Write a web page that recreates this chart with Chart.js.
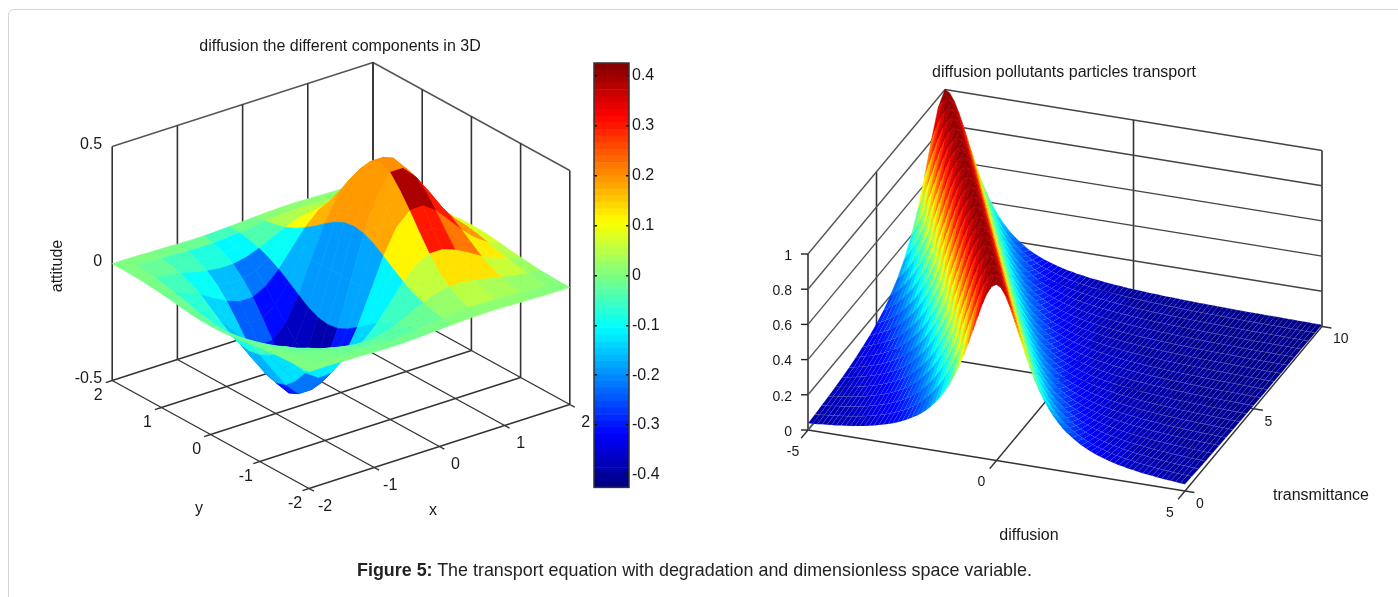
<!DOCTYPE html>
<html>
<head>
<meta charset="utf-8">
<script src="https://cdn.jsdelivr.net/npm/chart.js@4"></script>
<style>
  html, body { margin: 0; padding: 0; background: #fff; width: 1398px; height: 597px; overflow: hidden; }
  #frame { position: absolute; left: 8px; top: 9px; width: 1500px; height: 700px; border: 1px solid #d4d4d4; border-radius: 6px; }
  canvas { position: absolute; top: 0; }
  #caption { position: absolute; left: 357px; top: 560px; font: 17.9px "Liberation Sans", Arial, sans-serif; color: #222; white-space: nowrap; }
</style>
</head>
<body>
<div id="frame"></div>
<canvas id="leftChart" width="590" height="597" style="left:0"></canvas>
<canvas id="colorBar" width="90" height="450" style="left:580px;top:50px"></canvas>
<canvas id="rightChart" width="698" height="597" style="left:700px"></canvas>
<div id="caption"><b>Figure 5:</b> The transport equation with degradation and dimensionless space variable.</div>

<script>
// left surface
const xTicks = [-2, -1, 0, 1, 2];
const yTicks = [-2, -1, 0, 1, 2];
const zTicks = [-0.5, 0, 0.5];
const zTickLabels = ['-0.5', '0', '0.5'];
const gridStep = 0.2;
// height on the x >= 0, y >= 0 quarter, every 0.2. the other quarters mirror it (sign flips with x)
const quarterZ = [
  [0, .192, .341, .430, .430, .368, .284, .197, .124, .071, .037],
  [0, .185, .328, .410, .410, .354, .273, .189, .119, .068, .036],
  [0, .164, .291, .357, .360, .314, .242, .168, .106, .060, .032],
  [0, .134, .238, .292, .295, .257, .198, .138, .087, .050, .026],
  [0, .101, .180, .221, .222, .194, .150, .104, .065, .037, .019],
  [0, .071, .125, .154, .155, .135, .105, .072, .046, .026, .014],
  [0, .046, .081, .099, .100, .087, .067, .047, .029, .017, .009],
  [0, .027, .048, .059, .060, .052, .040, .028, .017, .010, .005],
  [0, .015, .026, .032, .032, .028, .022, .015, .010, .005, .003],
  [0, .007, .013, .016, .016, .014, .011, .008, .005, .003, .001],
  [0, .003, .006, .008, .008, .007, .005, .004, .002, .001, .001]
];
// colour value of each facet in the reference, facets are 0.4 wide, rows go with y
const facetColor = [
  [-.001, -.002, -.006, -.011, -.011, -.006, .006, .011, .011, .006, .002],
  [-.002, -.008, -.015, -.025, -.030, -.019, .019, .050, .035, .020, .008],
  [-.006, -.020, -.040, -.060, -.070, -.057, .057, .130, .130, .061, .024],
  [-.012, -.040, -.080, -.120, -.140, -.114, .114, .300, .220, .122, .048],
  [-.019, -.060, -.130, -.220, -.300, -.180, .180, .390, .300, .194, .076],
  [-.020, -.080, -.170, -.300, -.385, -.190, .190, .200, .300, .204, .080],
  [-.018, -.080, -.160, -.300, -.370, -.190, .190, .190, .250, .184, .072],
  [-.013, -.070, -.140, -.240, -.310, -.170, .170, .170, .200, .133, .052],
  [-.007, -.050, -.100, -.160, -.220, -.100, .100, .100, .100, .071, .028],
  [-.002, -.020, -.050, -.080, -.110, -.040, .040, .046, .042, .024, .010],
  [-.001, -.002, -.006, -.015, -.050, -.010, .010, .011, .011, .006, .002]
];

// colour bar
const colorbarTicks = [0.4, 0.3, 0.2, 0.1, 0, -0.1, -0.2, -0.3, -0.4];
const colorbarLabels = ['0.4', '0.3', '0.2', '0.1', '0', '-0.1', '-0.2', '-0.3', '-0.4'];

// right surface
const diffusionTicks = [-5, 0, 5];
const transmitTicks = [0, 5, 10];
const heightTicks = [0, 0.2, 0.4, 0.6, 0.8, 1];
const heightLabels = ['0', '0.2', '0.4', '0.6', '0.8', '1'];
// height read across the ridge, every 0.125 of (diffusion + transmittance / 2), from -5 to 10.
// the ridge keeps its shape, it only slides sideways from one row to the next
const ridgeProfile = [
  .038, .040, .042, .045, .047, .050, .052, .056, .059, .062, .066, .071, .075, .081, .086, .093,
  .100, .108, .117, .127, .138, .151, .165, .181, .200, .221, .246, .275, .308, .346, .390, .441,
  .500, .566, .640, .719, .800, .877, .941, .985,
  1, .985, .941, .877, .800, .719, .640, .566, .500, .441, .390, .346, .308, .275, .246, .221,
  .200, .181, .165, .151, .138, .127, .117, .108, .100, .093, .086, .081, .075, .071, .066, .062,
  .059, .056, .052, .050, .047, .045, .042, .040, .038, .037, .035, .033, .032, .031, .029, .028,
  .027, .026, .025, .024, .023, .022, .021, .021, .020, .019, .019, .018, .017, .017, .016, .016,
  .015, .015, .014, .014, .014, .013, .013, .013, .012, .012, .012, .011, .011, .011, .010, .010, .010
];

// 3d box to page pixels
const leftView = { o: [341, 275.5], ex: [65.2, -21], ey: [-49.2, -27], ez: [0, -234] };
const rightView = { o: [996.5, 460.5], ex: [37.7, 6.1], ey: [13.7, -16.45], ez: [0, -176] };

function project(view, x, y, z) {
  return {
    x: view.o[0] + x * view.ex[0] + y * view.ey[0] + z * view.ez[0],
    y: view.o[1] + x * view.ex[1] + y * view.ey[1] + z * view.ez[1]
  };
}

function jet(v) {
  const c = (t) => Math.round(255 * Math.min(1, Math.max(0, 1.5 - Math.abs(4 * v - t))));
  return 'rgb(' + c(3) + ',' + c(2) + ',' + c(1) + ')';
}

function cell(points, color, edge) {
  return {
    data: points.concat([points[0]]),
    showLine: true, pointRadius: 0, tension: 0, fill: 'shape',
    backgroundColor: color, borderColor: edge || color, borderWidth: 0.6
  };
}

function line(a, b, color, width) {
  return { data: [a, b], showLine: true, pointRadius: 0, tension: 0, fill: false, borderColor: color, borderWidth: width };
}

// draws the text items of a chart at their spot on the chart's scales
const textPlugin = {
  id: 'sceneText',
  afterDraw(chart, args, opts) {
    const ctx = chart.ctx;
    (opts.items || []).forEach((t) => {
      ctx.save();
      ctx.translate(chart.scales.x.getPixelForValue(t.x), chart.scales.y.getPixelForValue(t.y));
      if (t.rot) ctx.rotate(t.rot);
      ctx.font = t.size + 'px "Liberation Sans", Arial, sans-serif';
      ctx.fillStyle = '#1a1a1a';
      ctx.textAlign = t.align || 'center';
      ctx.textBaseline = 'middle';
      ctx.fillText(t.text, 0, 0);
      ctx.restore();
    });
  }
};

function sceneOptions(xMin, xMax, items) {
  return {
    responsive: false,
    animation: false,
    parsing: false,
    normalized: true,
    events: [],
    layout: { padding: 0 },
    scales: {
      x: { type: 'linear', display: false, min: xMin, max: xMax },
      y: { type: 'linear', display: false, min: 0, max: 597, reverse: true }
    },
    plugins: { legend: false, tooltip: false, title: false, sceneText: { items: items } }
  };
}

// ---------- left chart ----------
const leftSets = [];
const GRID_N = 20; // facets of 0.2 each way
const gridValue = (i) => -2 + i * gridStep;
// i is the row (y), j the column (x), both 0..20
function leftZ(i, j) {
  const q = quarterZ[Math.abs(i - 10)][Math.abs(j - 10)];
  return j < 10 ? -q : q;
}
// near cells first, chart.js paints the first dataset last
for (let i = 0; i < GRID_N; i++) {
  for (let j = 0; j < GRID_N; j++) {
    const value = facetColor[Math.floor((i + 1) / 2)][Math.floor((j + 1) / 2)];
    leftSets.push(cell([
      project(leftView, gridValue(j), gridValue(i), leftZ(i, j)),
      project(leftView, gridValue(j + 1), gridValue(i), leftZ(i, j + 1)),
      project(leftView, gridValue(j + 1), gridValue(i + 1), leftZ(i + 1, j + 1)),
      project(leftView, gridValue(j), gridValue(i + 1), leftZ(i + 1, j))
    ], jet((value + 0.425) / 0.851)));
  }
}
const LEFT_LINE = '#333';
xTicks.forEach((x) => {
  leftSets.push(line(project(leftView, x, -2, -0.5), project(leftView, x, 2, -0.5), LEFT_LINE, 1.4));
  leftSets.push(line(project(leftView, x, 2, -0.5), project(leftView, x, 2, 0.5), LEFT_LINE, 1.6));
  leftSets.push(line(project(leftView, x, -2, -0.5), project(leftView, x, -2.1, -0.5), LEFT_LINE, 1.4));
});
yTicks.forEach((y) => {
  leftSets.push(line(project(leftView, -2, y, -0.5), project(leftView, 2, y, -0.5), LEFT_LINE, 1.4));
  leftSets.push(line(project(leftView, 2, y, -0.5), project(leftView, 2, y, 0.5), LEFT_LINE, 1.6));
  leftSets.push(line(project(leftView, -2, y, -0.5), project(leftView, -2.1, y, -0.5), LEFT_LINE, 1.4));
});
leftSets.push(line(project(leftView, -2, 2, 0.5), project(leftView, 2, 2, 0.5), '#555', 1.5));
leftSets.push(line(project(leftView, 2, 2, 0.5), project(leftView, 2, -2, 0.5), '#555', 1.5));

const leftText = [
  { text: 'diffusion the different components in 3D', x: 340, y: 47, size: 16 },
  { text: 'attitude', x: 58, y: 266, size: 16, rot: -Math.PI / 2 },
  { text: 'y', x: 199, y: 509, size: 16 },
  { text: 'x', x: 433, y: 511, size: 16 }
];
xTicks.forEach((x) => {
  const p = project(leftView, x, -2, -0.5);
  leftText.push({ text: String(x), x: p.x + 16, y: p.y + 18, size: 16 });
});
yTicks.forEach((y) => {
  const p = project(leftView, -2, y, -0.5);
  leftText.push({ text: String(y), x: p.x - 14, y: p.y + 15, size: 16 });
});
zTicks.forEach((z, i) => {
  const p = project(leftView, -2, 2, z);
  leftText.push({ text: zTickLabels[i], x: p.x - 10, y: p.y - 2, size: 16, align: 'right' });
});

new Chart(document.getElementById('leftChart'), {
  type: 'scatter',
  data: { datasets: leftSets },
  options: sceneOptions(0, 590, leftText),
  plugins: [textPlugin]
});

// ---------- colour bar ----------
const BAR_MIN = -0.425, BAR_MAX = 0.426, BAR_LEVELS = 64;
const barSets = [];
for (let k = 0; k < BAR_LEVELS; k++) {
  const lo = BAR_MIN + (BAR_MAX - BAR_MIN) * k / BAR_LEVELS;
  const hi = BAR_MIN + (BAR_MAX - BAR_MIN) * (k + 1) / BAR_LEVELS;
  barSets.push({ data: [[lo, hi]], backgroundColor: jet((k + 0.5) / BAR_LEVELS), barPercentage: 1, categoryPercentage: 1, grouped: false });
}
const framePlugin = {
  id: 'barFrame',
  afterDraw(chart) {
    const a = chart.chartArea, ctx = chart.ctx;
    ctx.save();
    ctx.strokeStyle = '#333';
    ctx.lineWidth = 1.5;
    ctx.strokeRect(a.left, a.top, a.right - a.left, a.bottom - a.top);
    ctx.restore();
  }
};
new Chart(document.getElementById('colorBar'), {
  type: 'bar',
  data: { labels: [''], datasets: barSets },
  options: {
    responsive: false,
    animation: false,
    events: [],
    layout: { padding: { left: 14, top: 13, bottom: 11, right: 0 } },
    scales: {
      x: { display: false },
      y: {
        position: 'right', min: BAR_MIN, max: BAR_MAX,
        afterBuildTicks(scale) { scale.ticks = colorbarTicks.map((v) => ({ value: v })); },
        afterFit(scale) { scale.width = 41; },
        border: { display: false, dash: [3, 29, 3, 0] },
        grid: { z: 1, color: '#111', drawTicks: false, lineWidth: 1.5 },
        ticks: {
          padding: 3, color: '#1a1a1a', autoSkip: false, maxRotation: 0,
          font: { family: '"Liberation Sans", Arial, sans-serif', size: 16 },
          callback(v, i) { return colorbarLabels[i]; }
        }
      }
    },
    plugins: { legend: false, tooltip: false, title: false }
  },
  plugins: [framePlugin]
});

// ---------- right chart ----------
const rightSets = [];
const COLS = 80, ROWS = 20;
const colX = (j) => -5 + j * 0.125;
const rowT = (i) => i * 0.5;
const heightAt = (i, j) => ridgeProfile[j + 2 * i];
for (let i = 0; i < ROWS; i++) {
  for (let j = COLS - 1; j >= 0; j--) {
    const zs = [heightAt(i, j), heightAt(i, j + 1), heightAt(i + 1, j + 1), heightAt(i + 1, j)];
    const mean = (zs[0] + zs[1] + zs[2] + zs[3]) / 4;
    // the flat part of the reference shows its mesh as light specks
    const edge = mean < 0.2 ? 'rgba(150,150,190,' + (0.3 * (1 - mean / 0.2)).toFixed(3) + ')' : null;
    rightSets.push(cell([
      project(rightView, colX(j), rowT(i), zs[0]),
      project(rightView, colX(j + 1), rowT(i), zs[1]),
      project(rightView, colX(j + 1), rowT(i + 1), zs[2]),
      project(rightView, colX(j), rowT(i + 1), zs[3])
    ], jet(mean), edge));
  }
}
const RIGHT_LINE = '#333';
heightTicks.forEach((z) => {
  rightSets.push(line(project(rightView, -5, 0, z), project(rightView, -5, 10, z), '#555', 1.4));
  rightSets.push(line(project(rightView, -5, 10, z), project(rightView, 5, 10, z), '#444', 1.4));
  const p = project(rightView, -5, 0, z);
  rightSets.push(line(p, { x: p.x - 7, y: p.y }, '#222', 1.4));
});
diffusionTicks.forEach((x) => {
  rightSets.push(line(project(rightView, x, 0, 0), project(rightView, x, 10, 0), RIGHT_LINE, 1.4));
  rightSets.push(line(project(rightView, x, 10, 0), project(rightView, x, 10, 1), RIGHT_LINE, 1.6));
  rightSets.push(line(project(rightView, x, 0, 0), project(rightView, x, -0.5, 0), RIGHT_LINE, 1.4));
});
transmitTicks.forEach((t) => {
  rightSets.push(line(project(rightView, -5, t, 0), project(rightView, 5, t, 0), RIGHT_LINE, 1.4));
  rightSets.push(line(project(rightView, -5, t, 0), project(rightView, -5, t, 1), RIGHT_LINE, 1.6));
  rightSets.push(line(project(rightView, 5, t, 0), project(rightView, 5.25, t, 0), RIGHT_LINE, 1.4));
});

const rightText = [
  { text: 'diffusion pollutants particles transport', x: 1064, y: 73, size: 16 },
  { text: 'diffusion', x: 1029, y: 536, size: 16 },
  { text: 'transmittance', x: 1321, y: 496, size: 16 }
];
diffusionTicks.forEach((x) => {
  const p = project(rightView, x, 0, 0);
  rightText.push({ text: String(x), x: p.x - 15, y: p.y + 22, size: 14 });
});
transmitTicks.forEach((t) => {
  const p = project(rightView, 5, t, 0);
  rightText.push({ text: String(t), x: p.x + 11, y: p.y + 13, size: 14, align: 'left' });
});
heightTicks.forEach((z, i) => {
  const p = project(rightView, -5, 0, z);
  rightText.push({ text: heightLabels[i], x: p.x - 16, y: p.y + 2, size: 14, align: 'right' });
});

new Chart(document.getElementById('rightChart'), {
  type: 'scatter',
  data: { datasets: rightSets },
  options: sceneOptions(700, 1398, rightText),
  plugins: [textPlugin]
});
</script>
</body>
</html>
